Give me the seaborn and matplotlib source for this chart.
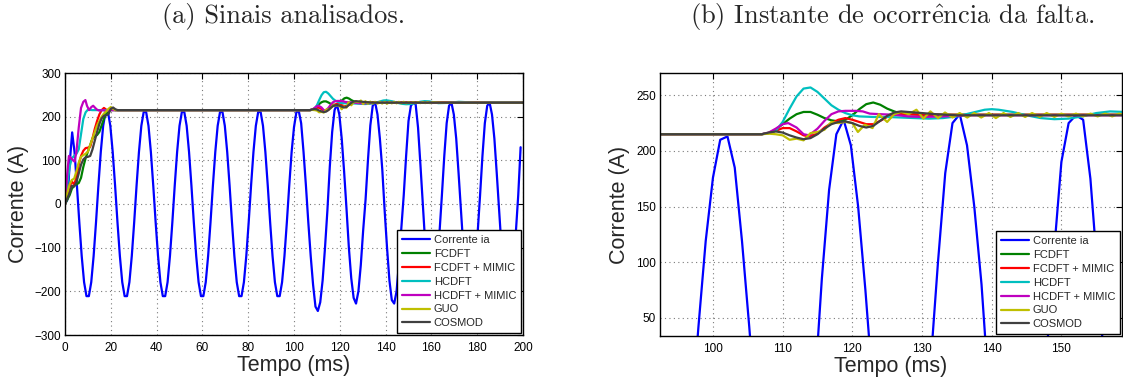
import matplotlib
matplotlib.use("Agg")
import numpy as np
import pandas as pd
import matplotlib.pyplot as plt
import seaborn as sns

# Sampling period of the phase current (ms): 16 samples per 60 Hz cycle
TS = 1000.0 / 960.0

# Phase current samples (A)
ia = [
    0, 10, 95, 164, 119, 42, -42, -119, -179, -211, -211, -179, -119, -42, 42, 119,
    179, 211, 211, 179, 119, 42, -42, -119, -179, -211, -211, -179, -119, -42, 42, 119,
    179, 211, 211, 179, 119, 42, -42, -119, -179, -211, -211, -179, -119, -42, 42, 119,
    179, 211, 211, 179, 119, 42, -42, -119, -179, -211, -211, -179, -119, -42, 42, 119,
    179, 211, 211, 179, 119, 42, -42, -119, -179, -211, -211, -179, -119, -42, 42, 119,
    179, 211, 211, 179, 119, 42, -42, -119, -179, -211, -211, -179, -119, -42, 42, 119,
    176, 210, 213, 185, 119, 42, -42, -119, -185, -235, -245, -225, -175, -100, -15, 85,
    165, 215, 228, 205, 150, 75, -10, -100, -170, -215, -228, -200, -140, -60, 10, 100,
    180, 225, 233, 205, 150, 80, -15, -100, -175, -220, -228, -200, -135, -55, 20, 110,
    190, 225, 232, 228, 175, 90, 0, -90, -165, -215, -230, -205, -145, -65, 20, 110,
    185, 225, 232, 205, 150, 70, -15, -100, -175, -220, -230, -205, -145, -65, 20, 110,
    185, 225, 232, 205, 150, 70, -15, -100, -175, -220, -230, -205, -145, -65, 20, 130,
]

# Phasor magnitude estimates (time in ms, magnitude in A)
fcdft_t = [0, 2, 3, 4, 5, 6, 7, 8, 9, 10, 11, 12, 13, 14, 15, 16, 17, 18, 19, 20, 21, 22,
           60, 107, 108, 109, 110, 111, 112, 113, 114, 115, 116, 117, 118, 119, 120, 121,
           122, 123, 124, 125, 126, 127, 128, 130, 200]
fcdft_v = [0, 20, 35, 42, 45, 48, 60, 85, 105, 120, 135, 150, 155, 158, 165, 180, 195, 207,
           213, 218, 217, 215, 215, 215, 216, 219, 224, 229, 233, 235, 235, 232.5, 229.5,
           227.5, 226.5, 228, 232, 237.5, 242, 243.5, 241.5, 238, 235.5, 233.5, 233, 232.5,
           232.5]

fcdft_mimic_t = [0, 1.5, 2.9, 4, 5, 6, 7, 8, 9, 10, 11, 12, 13, 14, 15, 16, 17, 18, 19, 20,
                 60, 107, 108, 109, 110, 111, 112, 113, 113.8, 115, 116, 117, 118, 119, 120,
                 121, 122, 123, 124, 125, 126, 127, 128, 130, 200]
fcdft_mimic_v = [0, 30, 52, 45, 60, 90, 110, 122, 128, 129, 131, 150, 172, 190, 205, 215,
                 220, 216, 214, 215, 215, 215, 216, 218, 220.5, 220.5, 217.5, 214, 213,
                 215.5, 221, 225, 228, 229.5, 228, 226, 224, 224, 227, 230.5, 232.5, 233,
                 233, 232.5, 232.5]

hcdft_t = [0, 1, 2, 3, 4, 5, 6, 7, 8, 9, 10, 12, 60, 107, 108, 109, 110, 111, 112, 113, 114,
           115, 116, 117, 118, 119, 120, 121, 123, 125, 127, 129, 131, 133, 135, 137, 139,
           140, 141, 143, 145, 147, 149, 151, 153, 155, 157, 159, 161, 163, 167, 172, 180,
           188, 200]
hcdft_v = [0, 45, 85, 105, 110, 115, 125, 160, 195, 210, 216, 215, 215, 215, 216, 218, 226,
           238, 249, 256, 257, 253, 247, 241, 237, 234, 232, 231, 230.5, 230.5, 230, 229.5,
           229, 229.5, 231, 234, 237, 237.5, 237, 235, 232, 229.5, 228.5, 229, 231, 234,
           235.5, 235, 233, 231, 231.5, 234, 232, 233, 232.5]

hcdft_mimic_t = [0, 1, 1.7, 2.5, 3.5, 4.2, 5, 6, 7, 8, 8.9, 9.6, 10.5, 11.5, 12.3, 13.2, 14,
                 15, 16, 18, 20, 60, 107, 108, 109, 110, 110.8, 112, 113, 113.8, 115, 116,
                 117, 118, 119, 120.5, 121.5, 122.5, 124, 126, 128, 130, 133, 137, 200]
hcdft_mimic_v = [0, 70, 110, 106, 100, 97, 120, 175, 220, 234, 238, 225, 215, 222, 225, 220,
                 216, 214, 215, 214, 215, 215, 215, 216.5, 220, 224, 225, 221, 215, 214, 220,
                 227, 233, 235.5, 236, 236, 235.5, 233.5, 233, 232.5, 231, 230.5, 231, 232,
                 232]

guo_t = [0, 1, 2, 3, 4, 5, 6, 7, 8, 9, 10, 11, 12, 13, 14, 15, 16, 17, 18, 19, 20, 21, 22,
         60, 107, 108, 109, 110, 111, 112, 113, 114, 115, 116, 117, 118, 119, 120, 120.8,
         121.8, 122.9, 123.8, 125, 126, 127, 128.1, 129.2, 130.2, 131.2, 132.3, 133.3,
         134.4, 135.4, 136.5, 137.5, 138.5, 139.6, 140.6, 141.7, 142.7, 143.8, 144.8,
         145.8, 146.9, 147.9, 149, 150, 151, 152.1, 153.1, 154.2, 155.2, 156.3, 157.3,
         158.3, 159.4, 160.4, 165, 200]
guo_v = [0, 25, 45, 55, 58, 75, 95, 108, 112, 115, 120, 135, 150, 165, 180, 190, 200, 207,
         212, 218, 222, 218, 215, 215, 215, 215.5, 215, 214, 210, 211, 209.5, 216, 217, 219,
         226, 225, 226, 225, 217, 223.5, 220.5, 233, 226, 233, 235, 233, 237, 229, 235.5,
         229.5, 234.5, 230, 234, 230, 234, 230, 234, 229.5, 234, 230.5, 234, 230.5, 234,
         230.5, 234, 230.5, 233.5, 231, 233.5, 231, 233.5, 231, 233.5, 231, 233.5, 231, 233,
         232, 232]

cosmod_t = [0, 2, 3, 4, 5, 6, 7, 8, 9, 10, 11, 12, 13, 14, 15, 16, 17, 18, 19, 20, 21, 22, 23,
            60, 107, 108, 109, 110, 111, 112, 113, 114, 115, 116, 117, 118, 119, 120, 121,
            122, 123, 124, 125, 126, 127, 128, 129, 130, 132, 135, 200]
cosmod_v = [0, 25, 42, 40, 50, 70, 90, 102, 107, 108, 110, 125, 145, 165, 183, 196, 202, 203,
            206, 218, 221, 217, 215, 215, 215, 216.5, 217.5, 216.5, 214, 212, 210.5, 211.5,
            215, 220, 224, 226, 226.5, 225, 222.5, 221, 222.5, 227, 231.5, 234.5, 235.5, 235,
            234.5, 234, 233, 232, 232]

LABELS = ["Corrente ia", "FCDFT", "FCDFT + MIMIC", "HCDFT", "HCDFT + MIMIC", "GUO", "COSMOD"]
COLORS = ["#0000ff", "#008000", "#ff0000", "#00bfbf", "#bf00bf", "#bfbf00", "#404040"]

series = [
    (np.arange(len(ia)) * TS, ia),
    (fcdft_t, fcdft_v),
    (fcdft_mimic_t, fcdft_mimic_v),
    (hcdft_t, hcdft_v),
    (hcdft_mimic_t, hcdft_mimic_v),
    (guo_t, guo_v),
    (cosmod_t, cosmod_v),
]

sns.set_style("white")
plt.rcParams["font.family"] = ["Liberation Sans", "DejaVu Sans"]
plt.rcParams["mathtext.fontset"] = "cm"

W, H = 1123, 381
fig = plt.figure(figsize=(W / 100, H / 100), dpi=100)
ax_a = fig.add_axes([65 / W, 1 - 335 / H, (523 - 65) / W, (335 - 73) / H])
ax_b = fig.add_axes([660 / W, 1 - 336 / H, (1122 - 660) / W, (336 - 73) / H])


def draw(ax, xlim, ylim, xticks, yticks):
    for (t, v), lab, col in zip(series, LABELS, COLORS):
        df = pd.DataFrame({"t": t, "v": v})
        sns.lineplot(data=df, x="t", y="v", ax=ax, color=col, lw=1.6, label=lab,
                     sort=False, estimator=None)
    ax.set_xlim(*xlim)
    ax.set_ylim(*ylim)
    ax.set_xticks(xticks)
    ax.set_yticks(yticks)
    ax.grid(True, linestyle=(0, (1, 3)), color="#7a7a7a", lw=0.8)
    ax.tick_params(direction="in", length=4, width=0.8, top=True, right=True,
                   labelsize=8.5, colors="black", pad=3)
    ax.tick_params(axis="x", pad=5)
    for s in ax.spines.values():
        s.set_visible(True)
        s.set_color("black")
        s.set_linewidth(1.0)
    ax.set_xlabel("Tempo (ms)", fontsize=15.5, labelpad=1)
    ax.set_ylabel("Corrente (A)", fontsize=15.5, labelpad=4)
    leg = ax.legend(loc="lower right", fontsize=8, frameon=True, fancybox=False,
                    edgecolor="black", framealpha=1, borderaxespad=0.15,
                    handlelength=2.5, handletextpad=0.35, labelspacing=0.35,
                    borderpad=0.45)
    leg.get_frame().set_linewidth(1.0)


draw(ax_a, (0, 200), (-300, 300), range(0, 201, 20), range(-300, 301, 100))
draw(ax_b, (92.4, 158.7), (33.7, 270), range(100, 151, 10), range(50, 251, 50))

fig.text(284 / W, 1 - 17 / H, "(a) Sinais analisados.", ha="center", va="center",
         family="cmr10", fontsize=19)
fig.text(892 / W, 1 - 17 / H, r"(b) Instante de ocorr$\hat{\mathrm{e}}$ncia da falta.",
         ha="center", va="center", family="cmr10", fontsize=19)

fig.savefig("out.png", dpi=100)
